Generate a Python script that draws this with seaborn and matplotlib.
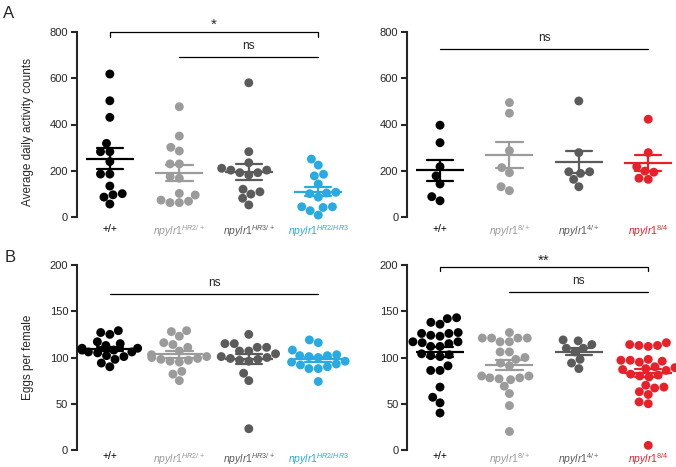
import matplotlib
matplotlib.use('Agg')
import matplotlib.pyplot as plt
import seaborn as sns
import pandas as pd

# --- data ---
groups_hr = ['+/+', 'HR2/+', 'HR3/+', 'HR2/HR3']
groups_84 = ['+/+', '8/+', '4/+', '8/4']

labels_hr = ['+/+', r'$\mathit{npylr1}^{\mathit{HR2/+}}$',
             r'$\mathit{npylr1}^{\mathit{HR3/+}}$', r'$\mathit{npylr1}^{\mathit{HR2/HR3}}$']
labels_84 = ['+/+', r'$\mathit{npylr1}^{\mathit{8/+}}$',
             r'$\mathit{npylr1}^{\mathit{4/+}}$', r'$\mathit{npylr1}^{\mathit{8/4}}$']

colors_hr = ['#000000', '#9b9b9b', '#5b5b5b', '#29abe2']
colors_84 = ['#000000', '#9b9b9b', '#5b5b5b', '#e8202a']

# activity counts, HR alleles
act_wt = [619, 503, 431, 318, 282, 282, 239, 185, 185, 133, 100, 95, 85, 55]
act_hr2 = [477, 350, 301, 285, 229, 229, 174, 167, 94, 72, 61, 61, 67, 101]
act_hr3 = [581, 282, 234, 202, 191, 181, 191, 202, 210, 119, 98, 108, 80, 51]
act_hr2hr3 = [250, 224, 184, 177, 142, 106, 100, 85, 103, 43, 40, 7, 26, 43]

# activity counts, 8/4 alleles
act_wt2 = [397, 321, 217, 177, 142, 69, 87]
act_8 = [495, 449, 286, 213, 191, 113, 130]
act_4 = [502, 278, 195, 188, 195, 162, 130]
act_84 = [423, 278, 217, 193, 198, 162, 167]

# eggs per female, HR alleles
egg_wt = [127, 125, 129, 117, 113, 115, 110, 108, 106, 105, 106, 108, 110,
          102, 98, 101, 90, 94]
egg_hr2 = [128, 129, 123, 114, 116, 111, 107, 101, 98, 96, 95, 97, 99, 103,
           100, 85, 82, 75]
egg_hr3 = [125, 115, 115, 111, 111, 107, 107, 104, 100, 98, 96, 97, 99, 101,
           83, 75, 23]
egg_hr2hr3 = [119, 116, 108, 103, 102, 100, 101, 102, 95, 93, 90, 88, 92, 96,
              88, 74]

# eggs per female, 8/4 alleles
egg_wt2 = [142, 143, 136, 138, 124, 126, 127, 126, 123, 117, 115, 116, 117,
           112, 112, 104, 102, 101, 103, 91, 86, 86, 68, 57, 51, 40]
egg_8 = [127, 121, 121, 121, 121, 117, 117, 106, 106, 98, 100, 94, 91, 80,
         78, 77, 78, 80, 76, 69, 61, 48, 20]
egg_4 = [119, 118, 114, 110, 106, 110, 98, 94, 88]
egg_84 = [116, 114, 113, 113, 112, 98, 97, 97, 96, 95, 90, 89, 88, 87, 86,
          82, 81, 80, 79, 70, 68, 67, 63, 60, 52, 50, 5]


def make_df(groups, values):
    rows = []
    for g, vals in zip(groups, values):
        for v in vals:
            rows.append((g, v))
    return pd.DataFrame(rows, columns=['group', 'value'])


sns.set_style('ticks')
plt.rcParams['font.family'] = ['Liberation Sans', 'DejaVu Sans']
plt.rcParams['mathtext.fontset'] = 'custom'
plt.rcParams['mathtext.rm'] = 'Liberation Sans'
plt.rcParams['mathtext.it'] = 'Liberation Sans:italic'
plt.rcParams['mathtext.bf'] = 'Liberation Sans:bold'

fig = plt.figure(figsize=(6.76, 4.67), dpi=100)
W, H = 676.0, 467.0


def add_axes(x0, x1, ytop, ybot):
    return fig.add_axes([x0 / W, 1 - ybot / H, (x1 - x0) / W, (ybot - ytop) / H])


ax_al = add_axes(76.5, 353, 32.3, 216.7)
ax_ar = add_axes(406.7, 676, 32.3, 216.7)
ax_bl = add_axes(76.5, 353, 265, 450)
ax_br = add_axes(406.7, 676, 265, 450)


def panel(ax, groups, values, labels, colors, ymax, ystep, xmax, pad):
    df = make_df(groups, values)
    pal = dict(zip(groups, colors))
    sns.swarmplot(data=df, x='group', y='value', order=groups, hue='group',
                  palette=pal, size=6.4, linewidth=0, legend=False,
                  warn_thresh=1, ax=ax)
    for c in ax.collections:
        c.set_clip_on(False)
    sns.pointplot(data=df, x='group', y='value', order=groups, hue='group',
                  palette=pal, errorbar='se', capsize=0.38, markers='_',
                  markersize=34, markeredgewidth=1.6, linestyle='none',
                  err_kws={'linewidth': 1.6}, legend=False, ax=ax)
    ax.set_xlim(-0.48, xmax)
    ax.set_ylim(0, ymax)
    ax.set_yticks(range(0, ymax + 1, ystep))
    ax.set_xticks(range(len(groups)))
    ax.set_xticklabels(labels)
    for t, c in zip(ax.get_xticklabels(), colors):
        t.set_color(c)
    ax.set_xlabel('')
    ax.set_ylabel('')
    sns.despine(ax=ax, bottom=True)
    ax.spines['left'].set_linewidth(1.5)
    ax.tick_params(axis='y', length=4, width=1.5, labelsize=8, pad=2)
    ax.tick_params(axis='x', length=0, labelsize=7.5, pad=pad)


panel(ax_al, groups_hr, [act_wt, act_hr2, act_hr3, act_hr2hr3], labels_hr,
      colors_hr, 800, 200, 3.5, 5)
panel(ax_ar, groups_84, [act_wt2, act_8, act_4, act_84], labels_84,
      colors_84, 800, 200, 3.4, 5)
panel(ax_bl, groups_hr, [egg_wt, egg_hr2, egg_hr3, egg_hr2hr3], labels_hr,
      colors_hr, 200, 50, 3.5, 1)
panel(ax_br, groups_84, [egg_wt2, egg_8, egg_4, egg_84], labels_84,
      colors_84, 200, 50, 3.4, 1)

ax_al.set_ylabel('Average daily activity counts', fontsize=8.5)
ax_al.yaxis.set_label_coords(-0.155, 0.46)
ax_bl.set_ylabel('Eggs per female', fontsize=8.5)
ax_bl.yaxis.set_label_coords(-0.155, 0.5)


def bracket(ax, x0, x1, y, drop, text, ty, fs):
    if drop:
        ax.plot([x0, x0, x1, x1], [y - drop, y, y, y - drop], color='black',
                lw=0.9, clip_on=False)
    else:
        ax.plot([x0, x1], [y, y], color='black', lw=0.9, clip_on=False)
    ax.text((x0 + x1) / 2, ty, text, ha='center', va='center', fontsize=fs)


bracket(ax_al, 0, 3, 800, 19, '*', 832, 11)
bracket(ax_al, 1, 3, 694, 0, 'ns', 742, 8.5)
bracket(ax_ar, 0, 3, 726, 0, 'ns', 774, 8.5)
bracket(ax_bl, 0, 3, 168.6, 0, 'ns', 181, 8.5)
bracket(ax_br, 0, 3, 197.5, 4.5, '**', 205, 11)
bracket(ax_br, 1, 3, 171, 0, 'ns', 183, 8.5)

fig.text(3 / W, 1 - 6 / H, 'A', fontsize=12, va='top', ha='left')
fig.text(5 / W, 1 - 250 / H, 'B', fontsize=12, va='top', ha='left')

fig.savefig('out.png', dpi=100)
